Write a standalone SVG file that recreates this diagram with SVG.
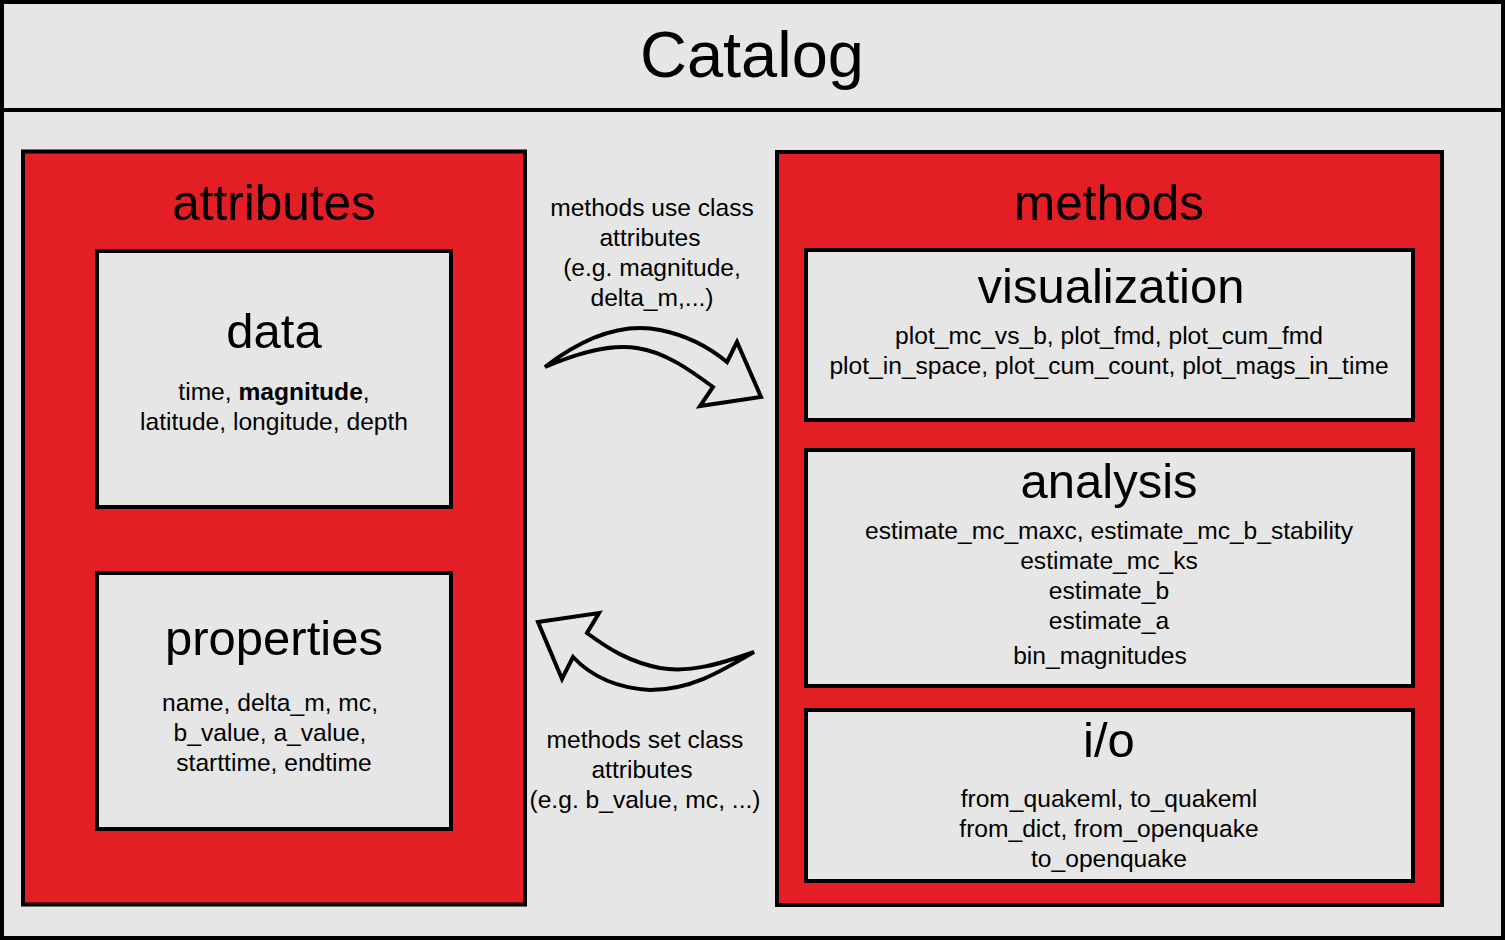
<svg xmlns="http://www.w3.org/2000/svg" width="1505" height="940" viewBox="0 0 1505 940">
<style>
.panel{fill:#e6e6e6;stroke:#000;stroke-width:4}
.red{fill:#e31e24;stroke:#000;stroke-width:4}
.box{fill:#e6e6e6;stroke:#000;stroke-width:4}
text{font-family:"Liberation Sans",Arial,sans-serif;fill:#000;text-anchor:middle}
.t0{font-size:65px}
.t1{font-size:49.5px}
.t2{font-size:49px}
.b{font-size:24.6px}
.arrow{fill:#e6e6e6;stroke:#000;stroke-width:4;stroke-linejoin:miter}
</style>
<rect x="0" y="0" width="1505" height="940" fill="#e6e6e6"/>
<g id="title">
<rect class="panel" x="2" y="2" width="1501" height="108"/>
<text class="t0" x="752" y="77">Catalog</text>
</g>
<rect class="panel" x="2" y="110" width="1501" height="828"/>
<g id="attributes">
<rect class="red" x="23" y="151.5" width="502" height="753"/>
<text class="t1" x="274" y="220">attributes</text>
</g>
<g id="data">
<rect class="box" x="97" y="251" width="354" height="256"/>
<text class="t2" x="274" y="348">data</text>
<text class="b" x="274" y="400">time, <tspan font-weight="bold">magnitude</tspan>,</text>
<text class="b" x="274" y="430">latitude, longitude, depth</text>
</g>
<g id="properties">
<rect class="box" x="97" y="573" width="354" height="256"/>
<text class="t2" x="274" y="655">properties</text>
<text class="b" x="270" y="711">name, delta_m, mc,</text>
<text class="b" x="270" y="741">b_value, a_value,</text>
<text class="b" x="274" y="771">starttime, endtime</text>
</g>
<g id="methods">
<rect class="red" x="777" y="152" width="665" height="753"/>
<text class="t1" x="1109" y="220">methods</text>
</g>
<g id="visualization">
<rect class="box" x="806" y="250" width="607" height="170"/>
<text class="t2" x="1111" y="303">visualization</text>
<text class="b" x="1109" y="344">plot_mc_vs_b, plot_fmd, plot_cum_fmd</text>
<text class="b" x="1109" y="374">plot_in_space, plot_cum_count, plot_mags_in_time</text>
</g>
<g id="analysis">
<rect class="box" x="806" y="450" width="607" height="236"/>
<text class="t2" x="1109" y="498">analysis</text>
<text class="b" x="1109" y="539">estimate_mc_maxc, estimate_mc_b_stability</text>
<text class="b" x="1109" y="569">estimate_mc_ks</text>
<text class="b" x="1109" y="599">estimate_b</text>
<text class="b" x="1109" y="629">estimate_a</text>
<text class="b" x="1100" y="664">bin_magnitudes</text>
</g>
<g id="io">
<rect class="box" x="806" y="710" width="607" height="171"/>
<text class="t2" x="1109" y="757">i/o</text>
<text class="b" x="1109" y="807">from_quakeml, to_quakeml</text>
<text class="b" x="1109" y="837">from_dict, from_openquake</text>
<text class="b" x="1109" y="867">to_openquake</text>
</g>
<g id="connectors">
<path class="arrow" d="M545,367 C580,340 620,322 660,330 C690,336 710,348 727,362 L737,342 L761,397 L700,406 L713,387 C690,370 665,352 637,348 C610,344 580,352 545,367 Z"/>
<path class="arrow" d="M538,622 L599,613 L587,633 C610,650 630,662 660,668 C690,673 720,664 754,652 C720,672 690,690 650,690 C615,688 590,675 573,657 L562,679 Z"/>
<text class="b" x="652" y="216">methods use class</text>
<text class="b" x="650" y="246">attributes</text>
<text class="b" x="652" y="276">(e.g. magnitude,</text>
<text class="b" x="652" y="306">delta_m,...)</text>
<text class="b" x="645" y="748">methods set class</text>
<text class="b" x="642" y="778">attributes</text>
<text class="b" x="645" y="808">(e.g. b_value, mc, ...)</text>
</g>
</svg>
